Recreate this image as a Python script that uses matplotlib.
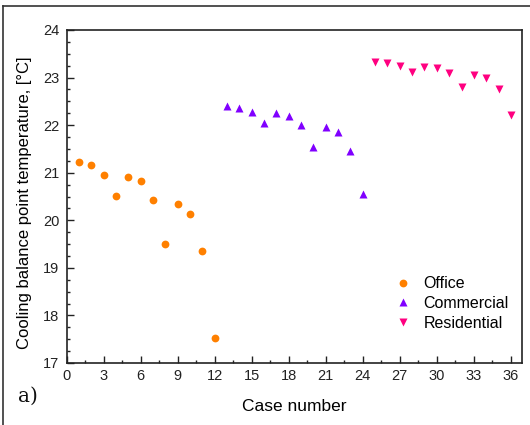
import matplotlib
matplotlib.use("Agg")
import matplotlib.pyplot as plt
from matplotlib.ticker import MultipleLocator
from matplotlib.lines import Line2D

plt.rcParams['font.family'] = ['Liberation Sans', 'DejaVu Sans']

# Cooling balance point temperature per case, grouped by building type
office_cases = list(range(1, 13))
office_temp = [21.22, 21.17, 20.96, 20.51, 20.92, 20.82, 20.43, 19.51, 20.34, 20.13, 19.35, 17.52]

commercial_cases = list(range(13, 25))
commercial_temp = [22.40, 22.37, 22.27, 22.05, 22.25, 22.20, 22.01, 21.54, 21.96, 21.85, 21.46, 20.55]

residential_cases = list(range(25, 37))
residential_temp = [23.32, 23.30, 23.24, 23.11, 23.22, 23.20, 23.09, 22.81, 23.05, 22.99, 22.76, 22.22]

x_ticks = list(range(0, 37, 3))
y_ticks = list(range(17, 25))

fig = plt.figure(figsize=(5.30, 4.25), dpi=100)
ax = fig.add_axes([66.5 / 530, 1 - 363 / 425, (522 - 66.5) / 530, (363 - 30) / 425])

ax.plot(office_cases, office_temp, 'o', color='#FF8000', ms=5.6, mec='none', label='Office')
ax.plot(commercial_cases, commercial_temp, '^', color='#8000FF', ms=6.3, mec='none', label='Commercial')
ax.plot(residential_cases, residential_temp, 'v', color='#FF0080', ms=6.3, mec='none', label='Residential')

ax.set_xlim(0, 36.9)
ax.set_ylim(17, 24)
ax.set_xticks(x_ticks)
ax.set_yticks(y_ticks)
ax.xaxis.set_minor_locator(MultipleLocator(1.5))
ax.yaxis.set_minor_locator(MultipleLocator(0.25))
ax.tick_params(which='both', direction='in', top=False, right=False, labelsize=10.5, colors='#222222')
ax.tick_params(which='major', length=5, width=1)
ax.tick_params(which='minor', length=2.5, width=1)
ax.tick_params(axis='x', pad=4)
ax.tick_params(axis='y', pad=5)
for s in ax.spines.values():
    s.set_linewidth(1.2)
    s.set_color('#222222')

ax.set_xlabel('Case number', fontsize=12.5)
ax.set_ylabel('Cooling balance point temperature, [°C]', fontsize=12)
ax.xaxis.set_label_coords(0.5, -0.108)
ax.yaxis.set_label_coords(-0.076, 0.48)

leg = ax.legend(loc='lower right', bbox_to_anchor=(0.995, 0.0635), frameon=False,
                fontsize=11.5, handletextpad=0.65, labelspacing=0.3, borderaxespad=0.3,
                handlelength=1.2)

fig.text(18 / 530, 1 - 402 / 425, 'a)', fontsize=14.5, family='DejaVu Serif', color='#111111')

# Partial outer frame along the top and left edges
fig.add_artist(Line2D([3 / 530, 1.0], [1 - 6 / 425, 1 - 6 / 425], transform=fig.transFigure,
                      color='#333333', lw=1.2))
fig.add_artist(Line2D([3 / 530, 3 / 530], [0.0, 1 - 6 / 425], transform=fig.transFigure,
                      color='#333333', lw=1.2))

fig.savefig('out.png', dpi=100)
